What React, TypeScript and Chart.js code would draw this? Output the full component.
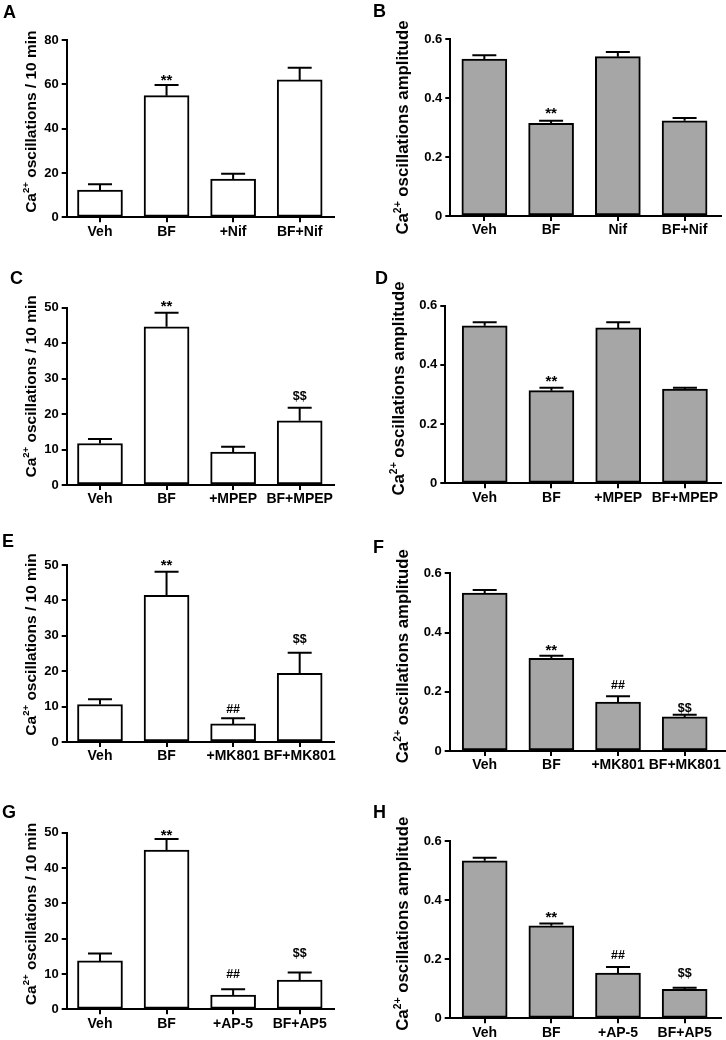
import React, { useEffect, useRef } from 'react';
import { Chart, registerables } from 'chart.js';

Chart.register(...registerables);

const FONT = '"Liberation Sans", Arial, Helvetica, sans-serif';

// ---------- data ----------
const catsA = ['Veh', 'BF', '+Nif', 'BF+Nif'];
const meanA = [12.3, 54.9, 17.3, 62.0];
const semA = [2.6, 4.8, 2.4, 5.5];
const markA = ['', '**', '', ''];

const catsB = ['Veh', 'BF', 'Nif', 'BF+Nif'];
const meanB = [0.532, 0.314, 0.54, 0.323];
const semB = [0.013, 0.009, 0.016, 0.009];
const markB = ['', '**', '', ''];

const catsC = ['Veh', 'BF', '+MPEP', 'BF+MPEP'];
const meanC = [11.7, 44.6, 9.3, 18.1];
const semC = [1.3, 4.0, 1.5, 3.7];
const markC = ['', '**', '', '$$'];

const catsD = ['Veh', 'BF', '+MPEP', 'BF+MPEP'];
const meanD = [0.532, 0.313, 0.525, 0.318];
const semD = [0.012, 0.01, 0.019, 0.005];
const markD = ['', '**', '', ''];

const catsE = ['Veh', 'BF', '+MK801', 'BF+MK801'];
const meanE = [10.6, 41.4, 5.1, 19.4];
const semE = [1.5, 6.7, 1.6, 5.8];
const markE = ['', '**', '##', '$$'];

const catsF = ['Veh', 'BF', '+MK801', 'BF+MK801'];
const meanF = [0.533, 0.313, 0.165, 0.115];
const semF = [0.011, 0.009, 0.02, 0.007];
const markF = ['', '**', '##', '$$'];

const catsG = ['Veh', 'BF', '+AP-5', 'BF+AP5'];
const meanG = [13.7, 45.1, 4.0, 8.3];
const semG = [2.1, 3.1, 1.7, 2.1];
const markG = ['', '**', '##', '$$'];

const catsH = ['Veh', 'BF', '+AP-5', 'BF+AP5'];
const meanH = [0.533, 0.313, 0.153, 0.098];
const semH = [0.01, 0.008, 0.021, 0.005];
const markH = ['', '**', '##', '$$'];

const COUNT_TITLE = 'oscillations / 10 min';
const AMP_TITLE = 'oscillations amplitude';

// ---------- layout / style ----------
type Panel = {
  letter: string;
  cats: string[];
  mean: number[];
  sem: number[];
  marks: string[];
  markGaps: number[];
  fill: string;
  yMax: number;
  yStep: number;
  title: string;
  left: number;
  top: number;
  axisX: number;
  axisEnd: number;
  topY: number;
  zeroY: number;
  xMin: number;
  xMax: number;
  titleX: number;
  titleDy: number;
  titleSize: number;
  letterX: number;
  letterY: number;
};

const WHITE = '#ffffff';
const GRAY = '#a6a6a6';
const PW = 363;
const PH = 260;

const panels: Panel[] = [
  { letter: 'A', cats: catsA, mean: meanA, sem: semA, marks: markA, markGaps: [0, 7.7, 0, 0], fill: WHITE, yMax: 80, yStep: 20, title: COUNT_TITLE,
    left: 0, top: 0, axisX: 66.7, axisEnd: 334.3, topY: 40, zeroY: 217.3, xMin: -0.5, xMax: 3.52, titleX: 35.5, titleDy: -7, titleSize: 15.5, letterX: 3, letterY: 18.3 },
  { letter: 'B', cats: catsB, mean: meanB, sem: semB, marks: markB, markGaps: [0, 10.7, 0, 0], fill: GRAY, yMax: 0.6, yStep: 0.2, title: AMP_TITLE,
    left: 363, top: 0, axisX: 450.3, axisEnd: 721.3, topY: 39, zeroY: 216, xMin: -0.51, xMax: 3.55, titleX: 408, titleDy: 0, titleSize: 16.8, letterX: 373, letterY: 17.3 },
  { letter: 'C', cats: catsC, mean: meanC, sem: semC, marks: markC, markGaps: [0, 9.4, 0, 11], fill: WHITE, yMax: 50, yStep: 10, title: COUNT_TITLE,
    left: 0, top: 260, axisX: 66.7, axisEnd: 334.3, topY: 307.7, zeroY: 485, xMin: -0.5, xMax: 3.52, titleX: 35.5, titleDy: -10, titleSize: 15.5, letterX: 10, letterY: 284 },
  { letter: 'D', cats: catsD, mean: meanD, sem: semD, marks: markD, markGaps: [0, 9.3, 0, 0], fill: GRAY, yMax: 0.6, yStep: 0.2, title: AMP_TITLE,
    left: 363, top: 260, axisX: 445.3, axisEnd: 721, topY: 305.7, zeroY: 483.3, xMin: -0.59, xMax: 3.54, titleX: 404, titleDy: -6, titleSize: 16.8, letterX: 375, letterY: 284 },
  { letter: 'E', cats: catsE, mean: meanE, sem: semE, marks: markE, markGaps: [0, 9, 8.3, 13.7], fill: WHITE, yMax: 50, yStep: 10, title: COUNT_TITLE,
    left: 0, top: 520, axisX: 66.7, axisEnd: 334.3, topY: 565, zeroY: 742, xMin: -0.5, xMax: 3.52, titleX: 35.5, titleDy: -9, titleSize: 15.5, letterX: 2, letterY: 546.7 },
  { letter: 'F', cats: catsF, mean: meanF, sem: semF, marks: markF, markGaps: [0, 8.3, 10.6, 6.7], fill: GRAY, yMax: 0.6, yStep: 0.2, title: AMP_TITLE,
    left: 363, top: 520, axisX: 449.7, axisEnd: 724.7, topY: 573.3, zeroY: 751, xMin: -0.525, xMax: 3.6, titleX: 408, titleDy: -6, titleSize: 16.8, letterX: 373, letterY: 553 },
  { letter: 'G', cats: catsG, mean: meanG, sem: semG, marks: markG, markGaps: [0, 6.7, 14.3, 18.7], fill: WHITE, yMax: 50, yStep: 10, title: COUNT_TITLE,
    left: 0, top: 780, axisX: 66.7, axisEnd: 334.3, topY: 832.7, zeroY: 1009.3, xMin: -0.5, xMax: 3.52, titleX: 35.5, titleDy: -7, titleSize: 15.5, letterX: 2, letterY: 818 },
  { letter: 'H', cats: catsH, mean: meanH, sem: semH, marks: markH, markGaps: [0, 9, 11, 14.7], fill: GRAY, yMax: 0.6, yStep: 0.2, title: AMP_TITLE,
    left: 363, top: 780, axisX: 449.7, axisEnd: 721.3, topY: 841, zeroY: 1018.3, xMin: -0.525, xMax: 3.55, titleX: 408, titleDy: -6, titleSize: 16.8, letterX: 373, letterY: 818 },
];

function PanelChart({ p }: { p: Panel }) {
  const ref = useRef<HTMLCanvasElement | null>(null);

  useEffect(() => {
    const canvas = ref.current;
    if (!canvas) return;

    const overlay = {
      id: 'overlay' + p.letter,
      afterDatasetsDraw(chart: any) {
        const ctx = chart.ctx as CanvasRenderingContext2D;
        const meta = chart.getDatasetMeta(0);
        const ys = chart.scales.y;
        ctx.save();
        ctx.strokeStyle = '#000';
        ctx.lineWidth = 2;
        p.mean.forEach((m, i) => {
          const el = meta.data[i];
          const x = el.x;
          const yb = ys.getPixelForValue(m);
          const yt = ys.getPixelForValue(m + p.sem[i]);
          ctx.beginPath();
          ctx.moveTo(x, yb);
          ctx.lineTo(x, yt);
          ctx.moveTo(x - 12, yt);
          ctx.lineTo(x + 12, yt);
          ctx.stroke();
          const mk = p.marks[i];
          if (mk) {
            ctx.fillStyle = '#000';
            const star = mk === '**';
            ctx.font = `bold ${star ? 15 : 12.5}px ${FONT}`;
            ctx.textAlign = 'center';
            ctx.textBaseline = 'middle';
            const adj = star ? 3.5 : 0;
            ctx.fillText(mk, x, yt - p.markGaps[i] + adj);
          }
        });
        ctx.restore();
      },
      afterDraw(chart: any) {
        const ctx = chart.ctx as CanvasRenderingContext2D;
        const ca = chart.chartArea;
        ctx.save();
        ctx.fillStyle = '#000';
        const cy = (ca.top + ca.bottom) / 2 + p.titleDy;
        ctx.translate(p.titleX - p.left, cy);
        ctx.rotate(-Math.PI / 2);
        const fs = p.titleSize;
        const big = `bold ${fs}px ${FONT}`;
        const small = `bold ${(fs * 0.62).toFixed(1)}px ${FONT}`;
        ctx.font = big;
        const w1 = ctx.measureText('Ca').width;
        const w3 = ctx.measureText(' ' + p.title).width;
        ctx.font = small;
        const w2 = ctx.measureText('2+').width;
        let x0 = -(w1 + w2 + w3) / 2;
        ctx.textAlign = 'left';
        ctx.textBaseline = 'alphabetic';
        ctx.font = big;
        ctx.fillText('Ca', x0, 0);
        x0 += w1;
        ctx.font = small;
        ctx.fillText('2+', x0, -fs * 0.42);
        x0 += w2;
        ctx.font = big;
        ctx.fillText(' ' + p.title, x0, 0);
        ctx.restore();
        ctx.save();
        ctx.fillStyle = '#000';
        ctx.font = `bold 18px ${FONT}`;
        ctx.textAlign = 'left';
        ctx.textBaseline = 'alphabetic';
        ctx.fillText(p.letter, p.letterX - p.left, p.letterY - p.top);
        ctx.restore();
      },
    };

    const chart = new Chart(canvas, {
      type: 'bar',
      data: {
        datasets: [
          {
            data: p.mean.map((m, i) => ({ x: i, y: m })),
            backgroundColor: p.fill,
            borderColor: '#000',
            borderWidth: 2,
            borderSkipped: false,
            barThickness: 45,
          } as any,
        ],
      },
      options: {
        responsive: false,
        animation: false,
        devicePixelRatio: 1,
        layout: {
          padding: { left: 0, top: p.topY - p.top, right: p.left + PW - p.axisEnd, bottom: 0 },
        },
        plugins: { legend: { display: false }, tooltip: { enabled: false } },
        scales: {
          x: {
            type: 'linear',
            offset: false,
            bounds: 'data',
            min: p.xMin,
            max: p.xMax,
            afterBuildTicks: (s: any) => {
              s.ticks = p.cats.map((_, i) => ({ value: i }));
            },
            afterFit: (s: any) => {
              s.height = p.top + PH - p.zeroY;
              s.paddingLeft = 0;
              s.paddingRight = 0;
            },
            ticks: {
              autoSkip: false,
              maxRotation: 0,
              minRotation: 0,
              padding: 1,
              color: '#000',
              font: { family: FONT, size: 14, weight: 'bold' },
              callback: (_v: any, idx: number) => p.cats[idx] ?? '',
            },
            grid: { display: true, offset: false, drawOnChartArea: false, drawTicks: true, tickLength: 5, color: '#000', lineWidth: 2 },
            border: { display: true, color: '#000', width: 2 },
          } as any,
          y: {
            min: 0,
            max: p.yMax,
            afterFit: (s: any) => {
              s.width = p.axisX - p.left;
              s.paddingTop = 0;
              s.paddingBottom = 0;
            },
            ticks: {
              stepSize: p.yStep,
              padding: 3,
              color: '#000',
              font: { family: FONT, size: 13, weight: 'bold' },
            },
            grid: { display: true, drawOnChartArea: false, drawTicks: true, tickLength: 5, color: '#000', lineWidth: 2 },
            border: { display: true, color: '#000', width: 2 },
          } as any,
        },
      },
      plugins: [overlay],
    } as any);

    return () => chart.destroy();
  }, [p]);

  return (
    <canvas
      ref={ref}
      width={PW}
      height={PH}
      style={{ position: 'absolute', left: p.left, top: p.top, width: PW, height: PH }}
    />
  );
}

export default function App() {
  return (
    <div style={{ position: 'absolute', left: 0, top: 0, width: 726, height: 1040, background: '#fff', overflow: 'hidden' }}>
      {panels.map((p) => (
        <PanelChart key={p.letter} p={p} />
      ))}
    </div>
  );
}
